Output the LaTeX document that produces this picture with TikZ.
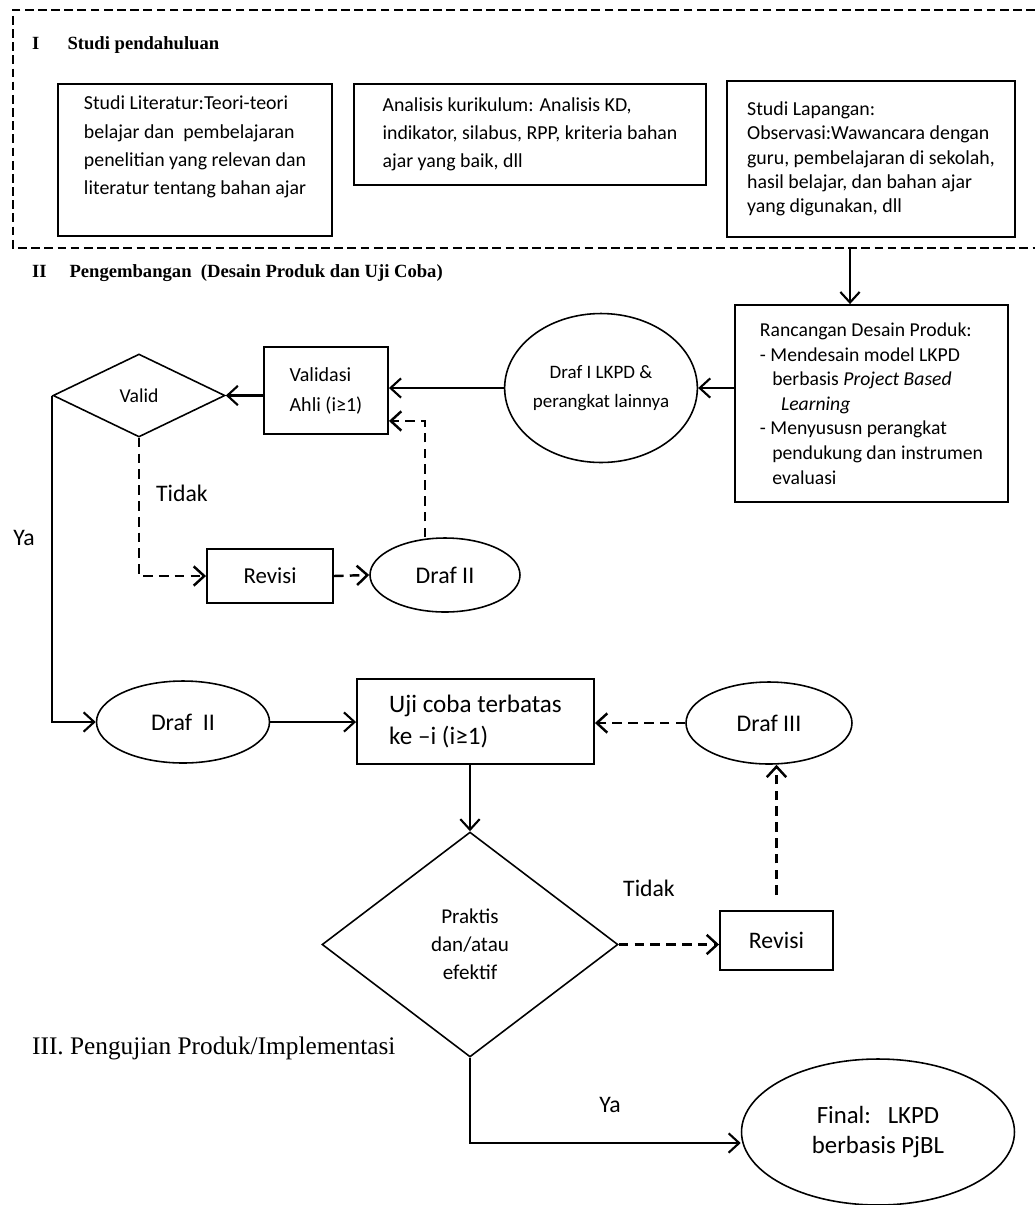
\documentclass[tikz,border=0pt]{standalone}
\usepackage{fontspec}
\setmainfont{Carlito}
\newfontfamily\headfont{Liberation Serif}
\usetikzlibrary{shapes.geometric, arrows.meta, positioning}

\begin{document}
\begin{tikzpicture}[x=0.02cm, y=-0.02cm,
		box/.style={draw, line width=1.1pt, align=left, inner sep=0pt, font=\fontsize{11.3}{16}\selectfont},
		oval/.style={draw, ellipse, line width=0.9pt, inner sep=0pt, align=center, font=\fontsize{13.6}{17}\selectfont},
		decide/.style={draw, diamond, line width=0.9pt, inner sep=0pt, align=center, font=\fontsize{11.2}{16}\selectfont},
		note/.style={font=\fontsize{13.5}{16}\selectfont},
		head/.style={anchor=west, font=\headfont\bfseries\fontsize{10.6}{13}\selectfont},
		arrow/.style={-{Straight Barb[length=6pt,width=11pt]}, line width=1.2pt},
		darrow/.style={arrow, line width=1.4pt, dash pattern=on 5.5pt off 3.5pt},
		frame/.style={line width=1pt, dash pattern=on 5pt off 2.5pt}
	]
	\useasboundingbox (0,0) rectangle (1035,1205);

	% I. Studi pendahuluan
	\draw[frame] (1035,10) -| (13,248) -- (1035,248);
	\node[head] (h1) at (26,45) {I\hspace{16pt}Studi pendahuluan};
	\node[box, minimum width=5.48cm, minimum height=3.04cm] (lit) at (195,160) {Studi Literatur:Teori-teori\\belajar dan\ \ pembelajaran\\penelitian yang relevan dan\\literatur tentang bahan ajar\\[-4pt]\strut};
	\node[box, minimum width=7.04cm, minimum height=2.02cm] (kur) at (530,134.5) {Analisis kurikulum: Analisis KD,\\indikator, silabus, RPP, kriteria bahan\\ajar yang baik, dll};
	\node[box, minimum width=5.76cm, minimum height=3.12cm, font=\fontsize{11.3}{13.8}\selectfont] (lap) at (871,159) {Studi Lapangan:\\Observasi:Wawancara dengan\\guru, pembelajaran di sekolah,\\hasil belajar, dan bahan ajar\\yang digunakan, dll};

	% II. Pengembangan
	\node[head] (h2) at (26,273) {II\hspace{13pt}Pengembangan\ \ (Desain Produk dan Uji Coba)};
	\node[box, minimum width=5.46cm, minimum height=3.94cm, font=\fontsize{11.2}{14}\selectfont] (rancang) at (871.5,403.5) {Rancangan Desain Produk:\\- Mendesain model LKPD\\\hspace*{7pt}berbasis \textit{Project Based}\\\hspace*{12pt}\textit{Learning}\\- Menyususn perangkat\\\hspace*{7pt}pendukung dan instrumen\\\hspace*{7pt}evaluasi};
	\node[oval, minimum width=3.82cm, minimum height=2.98cm, font=\fontsize{10.8}{16.5}\selectfont] (draf1) at (601,388) {Draf I LKPD \&\\perangkat lainnya};
	\node[box, minimum width=2.48cm, minimum height=1.74cm, font=\fontsize{11.4}{17}\selectfont] (validasi) at (326,390.5) {Validasi\\Ahli (i≥1)};
	\node[decide, minimum width=3.44cm, minimum height=1.66cm] (valid) at (139,395.5) {Valid};
	\node[box, align=center, minimum width=2.52cm, minimum height=1.08cm, font=\fontsize{13}{16}\selectfont] (revisi1) at (270,576) {Revisi};
	\node[oval, minimum width=3.0cm, minimum height=1.48cm] (draf2) at (445,575) {Draf II};
	\node[note] (tidak1) at (182,493) {Tidak};
	\node[note] (ya1) at (24,538) {Ya};

	% uji coba
	\node[oval, minimum width=3.46cm, minimum height=1.64cm] (draf2b) at (183,722) {Draf\ \ II};
	\node[box, minimum width=4.74cm, minimum height=1.70cm, font=\fontsize{14.3}{18}\selectfont] (uji) at (475.5,721.5) {Uji coba terbatas\\ke –i (i≥1)};
	\node[oval, minimum width=3.32cm, minimum height=1.64cm] (draf3) at (769,723) {Draf III};
	\node[decide, minimum width=5.92cm, minimum height=4.50cm, font=\fontsize{12}{16}\selectfont] (prak) at (470,944.5) {Praktis\\dan/atau\\efektif};
	\node[box, align=center, minimum width=2.26cm, minimum height=1.18cm, font=\fontsize{13.5}{16}\selectfont] (revisi2) at (776.5,940.5) {Revisi};
	\node[note] (tidak2) at (649,888) {Tidak};
	\node[note] (ya2) at (610,1105) {Ya};

	% III. Pengujian Produk
	\node[head, font=\headfont\fontsize{14.4}{17}\selectfont] (h3) at (26,1048) {III. Pengujian Produk/Implementasi};
	\node[oval, minimum width=5.46cm, minimum height=2.92cm, font=\fontsize{14.1}{17}\selectfont] (final) at (878,1132) {Final:\ \ \ LKPD\\berbasis PjBL};

	% connectors
	\coordinate (s1) at (850,248);
	\draw[arrow] (s1) -- (s1 |- rancang.north);
	\draw[arrow] (rancang.west |- draf1.east) -- (draf1.east);
	\draw[arrow] (draf1.west) -- (validasi.east |- draf1.west);
	\draw[arrow] (validasi.west |- valid.east) -- (valid.east);
	\draw[darrow] (valid.south) |- (revisi1.west);
	\draw[darrow] (revisi1.east) -- (draf2.west);
	\draw[darrow] ([xshift=-0.4cm]draf2.north) |- ([yshift=0.28cm]validasi.south east);
	\draw[arrow] (valid.west) |- (draf2b.west);
	\draw[arrow] (draf2b.east) -- (uji.west |- draf2b.east);
	\draw[darrow] (draf3.west) -- (uji.east |- draf3.west);
	\draw[arrow] (uji.south -| prak.north) -- (prak.north);
	\draw[darrow] (prak.east) -- (revisi2.west |- prak.east);
	\draw[darrow, shorten <=0.3cm] (revisi2.north) -- (revisi2.north |- draf3.south);
	\draw[arrow] (prak.south) |- ([yshift=-0.22cm]final.west);
\end{tikzpicture}
\end{document}
